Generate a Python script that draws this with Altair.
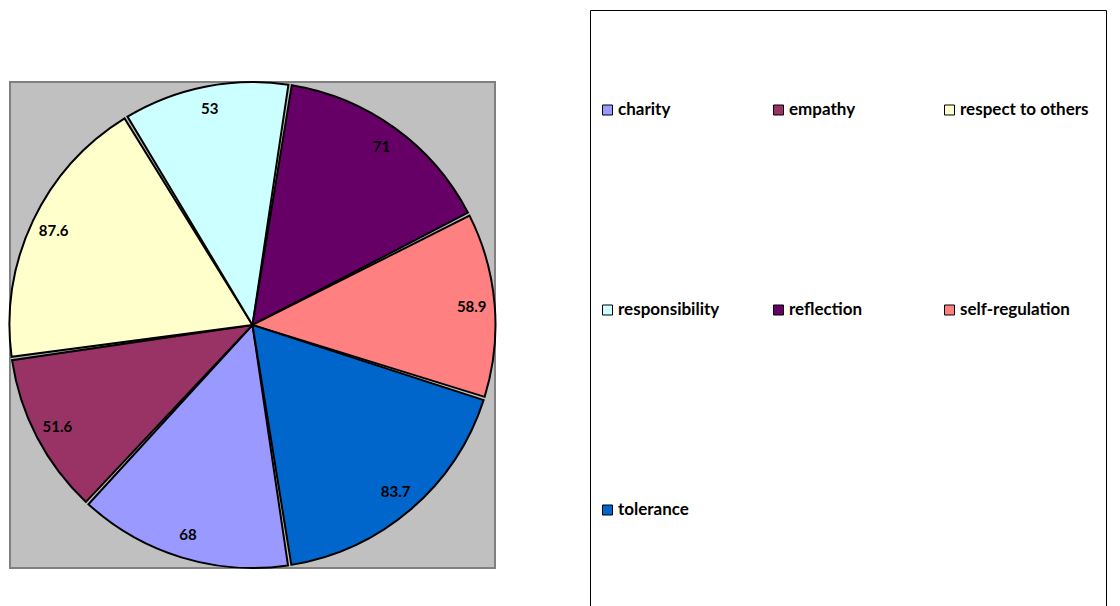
import math
import altair as alt
import pandas as pd

categories = ["charity", "empathy", "respect to others", "responsibility",
              "reflection", "self-regulation", "tolerance"]
values = [68, 51.6, 87.6, 53, 71, 58.9, 83.7]
colors = ["#9999FF", "#993366", "#FFFFCC", "#CCFFFF", "#660066", "#FF8080", "#0066CC"]

df = pd.DataFrame({"category": categories, "value": values, "order": list(range(len(categories)))})

start = 171.2 * math.pi / 180
theta_scale = alt.Scale(range=[start, start + 2 * math.pi])
color_scale = alt.Scale(domain=categories, range=colors)

base = alt.Chart(df).encode(
    theta=alt.Theta("value:Q", stack=True, scale=theta_scale),
    order=alt.Order("order:Q"),
)

arcs = base.mark_arc(outerRadius=243, stroke="black", strokeWidth=2, padAngle=0.014).encode(
    color=alt.Color(
        "category:N",
        scale=color_scale,
        legend=alt.Legend(
            title=" ",
            titleOrient="right",
            titleFontSize=20,
            titlePadding=8,
            orient="none",
            direction="horizontal",
            legendX=580,
            legendY=-72,
            columns=3,
            symbolType="square",
            symbolSize=100,
            symbolStrokeColor="black",
            symbolStrokeWidth=1,
            labelFont="Lato",
            labelFontSize=17,
            labelFontWeight="bold",
            labelColor="black",
            labelLimit=300,
            labelOffset=2,
            columnPadding=23,
            rowPadding=18,
            clipHeight=182,
            padding=9,
            strokeColor="black",
            fillColor="white",
            gridAlign="all",
        ),
    )
)

text = base.mark_text(radius=220, font="Lato", fontSize=15, fontWeight="bold", color="black").encode(
    text=alt.Text("value:Q", format="~g")
)

chart = (
    alt.layer(arcs, text)
    .properties(
        width=485,
        height=486,
        autosize=alt.AutoSizeParams(type="none"),
        padding={"left": 2, "top": 74, "right": 617, "bottom": 60},
        view=alt.ViewBackground(fill="#C0C0C0", stroke="#808080", strokeWidth=2),
    )
)

chart.save("out.html", embed_options={"renderer": "svg", "actions": False})
